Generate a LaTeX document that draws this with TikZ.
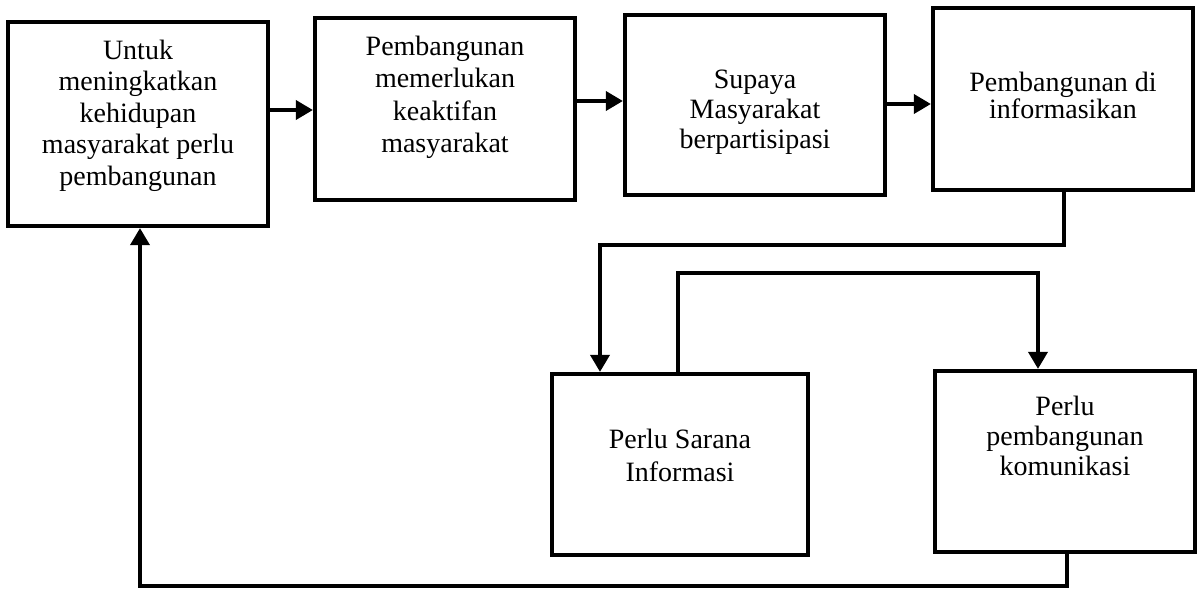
\documentclass[tikz,border=0pt]{standalone}
\usepackage{fontspec}
\setmainfont{Liberation Serif}
\usetikzlibrary{arrows.meta,calc}
\begin{document}
\begin{tikzpicture}[x=1pt,y=-1pt,
  box/.style={draw, line width=4.2pt, rectangle, align=center, inner sep=0pt,
    minimum width=260pt},
  fs/.style={font=\fontsize{28}{#1}\selectfont},
  arr/.style={line width=3.6pt, -{Triangle[length=17pt,width=19pt]}}]
\useasboundingbox (0,0) rectangle (1202,611);
\fill[white] (0,0) rectangle (1202,611);
% boxes: text height = last baseline - top, text depth = bottom - last baseline
\node[box, fs=31.5, text height=163pt, text depth=41pt] (b1) at (138,124)
  {Untuk\\meningkatkan\\kehidupan\\masyarakat perlu\\pembangunan};
\node[box, fs=32.5, text height=134.5pt, text depth=47.5pt] (b2) at (445,109)
  {Pembangunan\\memerlukan\\keaktifan\\masyarakat};
\node[box, fs=30, text height=133pt, text depth=47pt] (b3) at (755,105)
  {Supaya\\Masyarakat\\berpartisipasi};
\node[box, fs=27, text height=110pt, text depth=72pt] (b4) at (1063,99)
  {Pembangunan di\\informasikan};
\node[box, fs=33, minimum width=256pt, text height=107pt, text depth=74pt] (b5) at (680,464.5)
  {Perlu Sarana\\Informasi};
\node[box, fs=30, text height=104pt, text depth=77pt] (b6) at (1065,461.5)
  {Perlu\\pembangunan\\komunikasi};
% horizontal arrows
\draw[arr] (b1.east |- 0,110) -- (b2.west |- 0,110);
\draw[arr] (b2.east |- 0,101) -- (b3.west |- 0,101);
\draw[arr] (b3.east |- 0,104) -- (b4.west |- 0,104);
% b4 -> b5
\coordinate (c1) at (1064,245);
\coordinate (c2) at (600,245);
\draw[arr] (b4.south -| c1) -- (c1) -- (c2) -- (c2 |- b5.north);
% b5 -> b6
\coordinate (d1) at (678,273);
\coordinate (d2) at (1038,273);
\draw[arr] (b5.north -| d1) -- (d1) -- (d2) -- (d2 |- b6.north);
% b6 -> b1
\coordinate (e1) at (1067,586);
\coordinate (e2) at (140,586);
\draw[arr] (b6.south -| e1) -- (e1) -- (e2) -- (e2 |- b1.south);
\end{tikzpicture}
\end{document}
